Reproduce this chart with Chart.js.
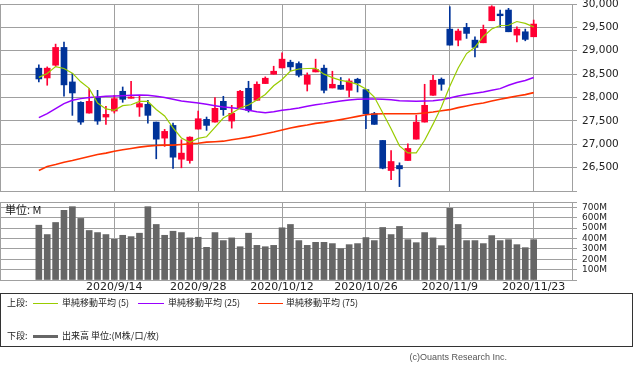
<!DOCTYPE html>
<html>
<head>
<meta charset="utf-8">
<script src="https://cdn.jsdelivr.net/npm/chart.js@4.4.1/dist/chart.umd.min.js"></script>
<style>
body{margin:0;background:#fff;width:633px;height:374px;overflow:hidden;position:relative;font-family:"DejaVu Sans",sans-serif;}
canvas{position:absolute;left:0;}
#price{top:0;}
#vol{top:195px;}
.t{position:absolute;white-space:nowrap;line-height:1;}
.unit{left:5px;top:204px;font-size:11px;color:#222;font-family:"Noto Sans CJK JP",sans-serif;}
.box{position:absolute;left:0;top:293px;width:631px;height:52px;border:1px solid #333;}
.lg{font-size:9px;color:#222;font-family:"Noto Sans CJK JP",sans-serif;}
.ln{position:absolute;height:0;}
.copy{right:126px;top:353px;font-size:9px;color:#555;font-family:"Liberation Sans",sans-serif;}
</style>
</head>
<body>
<canvas id="price" width="633" height="192"></canvas>
<canvas id="vol" width="633" height="100"></canvas>
<div class="t unit">単位: M</div>

<div class="box"></div>
<div class="t lg" style="left:7px;top:298px">上段:</div>
<div class="ln" style="left:33px;top:303px;width:25px;border-top:1px solid #99cc00"></div>
<div class="t lg" style="left:62px;top:298px">単純移動平均 (5)</div>
<div class="ln" style="left:138px;top:303px;width:26px;border-top:1px solid #9900ff"></div>
<div class="t lg" style="left:168px;top:298px">単純移動平均 (25)</div>
<div class="ln" style="left:258px;top:303px;width:25px;border-top:1px solid #ff3300"></div>
<div class="t lg" style="left:286px;top:298px">単純移動平均 (75)</div>
<div class="t lg" style="left:7px;top:331px">下段:</div>
<div class="ln" style="left:33px;top:335px;width:25px;border-top:3px solid #666"></div>
<div class="t lg" style="left:62px;top:331px">出来高 単位:(M株/口/枚)</div>
<div class="t copy">(c)Ouants Research Inc.</div>

<script>
// daily data, 2020/8/31 - 2020/11/23
const dates = ['2020/8/31','2020/9/1','2020/9/2','2020/9/3','2020/9/4','2020/9/8','2020/9/9','2020/9/10','2020/9/11','2020/9/14',
  '2020/9/15','2020/9/16','2020/9/17','2020/9/18','2020/9/21','2020/9/22','2020/9/23','2020/9/24','2020/9/25','2020/9/28',
  '2020/9/29','2020/9/30','2020/10/1','2020/10/2','2020/10/5','2020/10/6','2020/10/7','2020/10/8','2020/10/9','2020/10/12',
  '2020/10/13','2020/10/14','2020/10/15','2020/10/16','2020/10/19','2020/10/20','2020/10/21','2020/10/22','2020/10/23','2020/10/26',
  '2020/10/27','2020/10/28','2020/10/29','2020/10/30','2020/11/2','2020/11/3','2020/11/4','2020/11/5','2020/11/6','2020/11/9',
  '2020/11/10','2020/11/11','2020/11/12','2020/11/13','2020/11/16','2020/11/17','2020/11/18','2020/11/19','2020/11/20','2020/11/23'];

const tickDates = ['2020/9/14','2020/9/28','2020/10/12','2020/10/26','2020/11/9','2020/11/23'];
const volTicks = [0,100,200,300,400,500,600,700,750];

const openP  = [28627,28418,28691,29071,28333,27897,27667,27998,27582,27710,
  28133,27983,27796,27854,27474,27131,27403,26680,26652,27324,
  27532,27474,27918,27496,27783,28197,27940,28298,28498,28633,
  28755,28727,28283,28547,28627,28204,28262,28154,28391,28169,
  27654,27081,26438,26545,26652,27109,27474,28047,28391,29463,
  29227,29500,29227,29170,29642,29785,29871,29335,29406,29299];
const highP  = [28700,28655,29142,29185,28513,27910,28190,28154,27811,28047,
  28225,28347,28047,27940,27474,27318,27453,27096,27160,27710,
  27582,27998,28026,27833,28154,28347,28333,28441,28669,28955,
  28798,28762,28526,28820,28691,28562,28427,28397,28412,28169,
  27682,27081,26867,26603,27011,27618,28283,28476,28419,29942,
  29463,29586,29298,29549,29964,29871,29908,29513,29463,29657];
const lowP   = [28333,28262,28670,28026,27618,27425,27667,27425,27425,27667,
  27897,27983,27596,27453,26689,26953,26481,26496,26594,27324,
  27296,27474,27618,27345,27783,27689,27940,28298,28498,28633,
  28569,28441,28139,28547,28097,28204,28176,28011,28118,27332,
  27425,26474,26245,26094,26652,27109,27474,28047,28154,29120,
  29105,29264,28869,29170,29642,29513,29406,29191,29213,29299];
const closeP = [28397,28627,29071,28270,28097,27474,27918,27496,27639,27976,
  27961,28011,27869,27618,27109,27275,26723,26810,27152,27546,
  27403,27768,27740,27661,28133,27725,28283,28412,28562,28820,
  28655,28476,28476,28599,28154,28283,28176,28354,28312,27654,
  27425,26487,26631,26474,26910,27474,27833,28369,28283,29120,
  29421,29371,29071,29457,29942,29749,29406,29463,29243,29571];

const ma5  = [28430,28515,28660,28620,28520,28335,28195,27880,27755,27725,
  27825,27845,27915,27915,27745,27605,27350,27135,27040,27125,
  27160,27360,27560,27665,27775,27840,27945,28065,28250,28385,
  28565,28610,28620,28625,28500,28425,28365,28335,28280,28180,
  28010,27675,27330,26965,26815,26815,27085,27430,27795,28240,
  28630,28940,29075,29305,29465,29540,29545,29625,29585,29510];
const ma25 = [27568,27654,27761,27869,27940,27976,27998,28011,28026,28033,
  28040,28047,28054,28047,28026,27998,27961,27925,27903,27882,
  27854,27825,27796,27783,27761,27725,27697,27676,27697,27725,
  27747,27775,27811,27847,27869,27897,27925,27947,27961,27968,
  27968,27961,27954,27933,27925,27918,27925,27933,27954,27990,
  28033,28062,28090,28118,28154,28190,28262,28319,28362,28427];
const ma75 = [26438,26524,26567,26616,26652,26695,26738,26781,26810,26852,
  26882,26910,26939,26960,26974,26981,26981,26996,27010,27023,
  27045,27055,27066,27096,27124,27152,27189,27225,27261,27304,
  27347,27382,27411,27446,27468,27496,27526,27560,27596,27632,
  27646,27654,27654,27654,27654,27654,27668,27689,27718,27740,
  27783,27818,27854,27882,27925,27961,27998,28033,28062,28104];

// volume in millions
const volume = [527,437,553,670,705,592,476,456,437,391,
  430,417,450,705,534,430,469,456,405,411,
  314,456,379,405,320,450,333,320,333,502,
  534,379,333,362,362,350,301,340,350,408,
  379,505,437,515,388,359,456,405,330,689,
  534,379,379,350,427,379,388,340,311,388];

const UP = '#ff0033', DOWN = '#003399', GRID = '#a0a0a0';
const tickIdx = tickDates.map(d => dates.indexOf(d));
const candleColor = dates.map((d, i) => closeP[i] >= openP[i] ? UP : DOWN);
const XMIN = -4.63, XMAX = 63.57;

// left edge of the plot frame
const frame = {
  id: 'frame',
  beforeDatasetsDraw(chart) {
    const a = chart.chartArea, c = chart.ctx;
    c.save();
    c.strokeStyle = GRID;
    c.lineWidth = 1;
    c.beginPath();
    c.moveTo(Math.round(a.left) + 0.5, Math.round(a.top));
    c.lineTo(Math.round(a.left) + 0.5, Math.round(a.bottom) + 1);
    c.stroke();
    c.restore();
  }
};

function xScale(showLabels) {
  return {
    type: 'linear', min: XMIN, max: XMAX, offset: false,
    afterBuildTicks: s => { s.ticks = tickIdx.map(v => ({ value: v })); },
    afterFit: s => { s.height = showLabels ? 15 : 0; s.paddingLeft = 0; s.paddingRight = 0; },
    grid: { color: GRID, drawTicks: false, offset: false },
    border: { display: false },
    ticks: {
      display: showLabels, padding: 1, maxRotation: 0, autoSkip: false,
      color: '#222', font: { family: 'DejaVu Sans', size: 11 },
      callback: v => dates[v] || ''
    }
  };
}

function yScale(min, max, step, size, fmt, tickList) {
  const o = {
    position: 'right', min: min, max: max,
    afterFit: s => { s.width = 61; s.paddingTop = 0; s.paddingBottom = 0; },
    grid: { color: GRID, tickLength: 5 },
    border: { color: GRID },
    ticks: {
      stepSize: step, padding: 5, color: '#222', autoSkip: false,
      font: { family: 'DejaVu Sans', size: size },
      callback: fmt
    }
  };
  if (tickList) o.afterBuildTicks = s => { s.ticks = tickList.map(v => ({ value: v })); };
  return o;
}

Chart.defaults.animation = false;

new Chart(document.getElementById('price'), {
  type: 'bar',
  data: {
    datasets: [
      { type: 'line', data: dates.map((d, i) => ({ x: i, y: ma5[i] })), borderColor: '#99cc00', borderWidth: 1.2, pointRadius: 0, order: -3 },
      { type: 'line', data: dates.map((d, i) => ({ x: i, y: ma25[i] })), borderColor: '#9900ff', borderWidth: 1.5, pointRadius: 0, order: -2 },
      { type: 'line', data: dates.map((d, i) => ({ x: i, y: ma75[i] })), borderColor: '#ff3300', borderWidth: 1.6, pointRadius: 0, order: -1 },
      { data: dates.map((d, i) => ({ x: i, y: [openP[i], closeP[i]] })), backgroundColor: candleColor, barThickness: 6, minBarLength: 1, grouped: false, order: 0 },
      { data: dates.map((d, i) => ({ x: i, y: [lowP[i], highP[i]] })), backgroundColor: candleColor, barThickness: 1, grouped: false, order: 1 }
    ]
  },
  options: {
    responsive: false,
    devicePixelRatio: 1,
    layout: { padding: { top: 4, bottom: 1, left: 0, right: 0 } },
    plugins: { legend: { display: false }, tooltip: { enabled: false } },
    scales: {
      x: xScale(false),
      y: yScale(26000, 30000, 500, 10.5, v => v === 26000 ? '' : v.toLocaleString('en-US'))
    }
  },
  plugins: [frame]
});

new Chart(document.getElementById('vol'), {
  type: 'bar',
  data: {
    datasets: [
      { data: dates.map((d, i) => ({ x: i, y: volume[i] })), backgroundColor: '#666666', barThickness: 6, grouped: false }
    ]
  },
  options: {
    responsive: false,
    devicePixelRatio: 1,
    layout: { padding: { top: 7, bottom: 0, left: 0, right: 0 } },
    plugins: { legend: { display: false }, tooltip: { enabled: false } },
    scales: {
      x: xScale(true),
      y: yScale(0, 750, 100, 9, v => (v === 0 || v === 750) ? '' : v + 'M', volTicks)
    }
  },
  plugins: [frame]
});
</script>
</body>
</html>
